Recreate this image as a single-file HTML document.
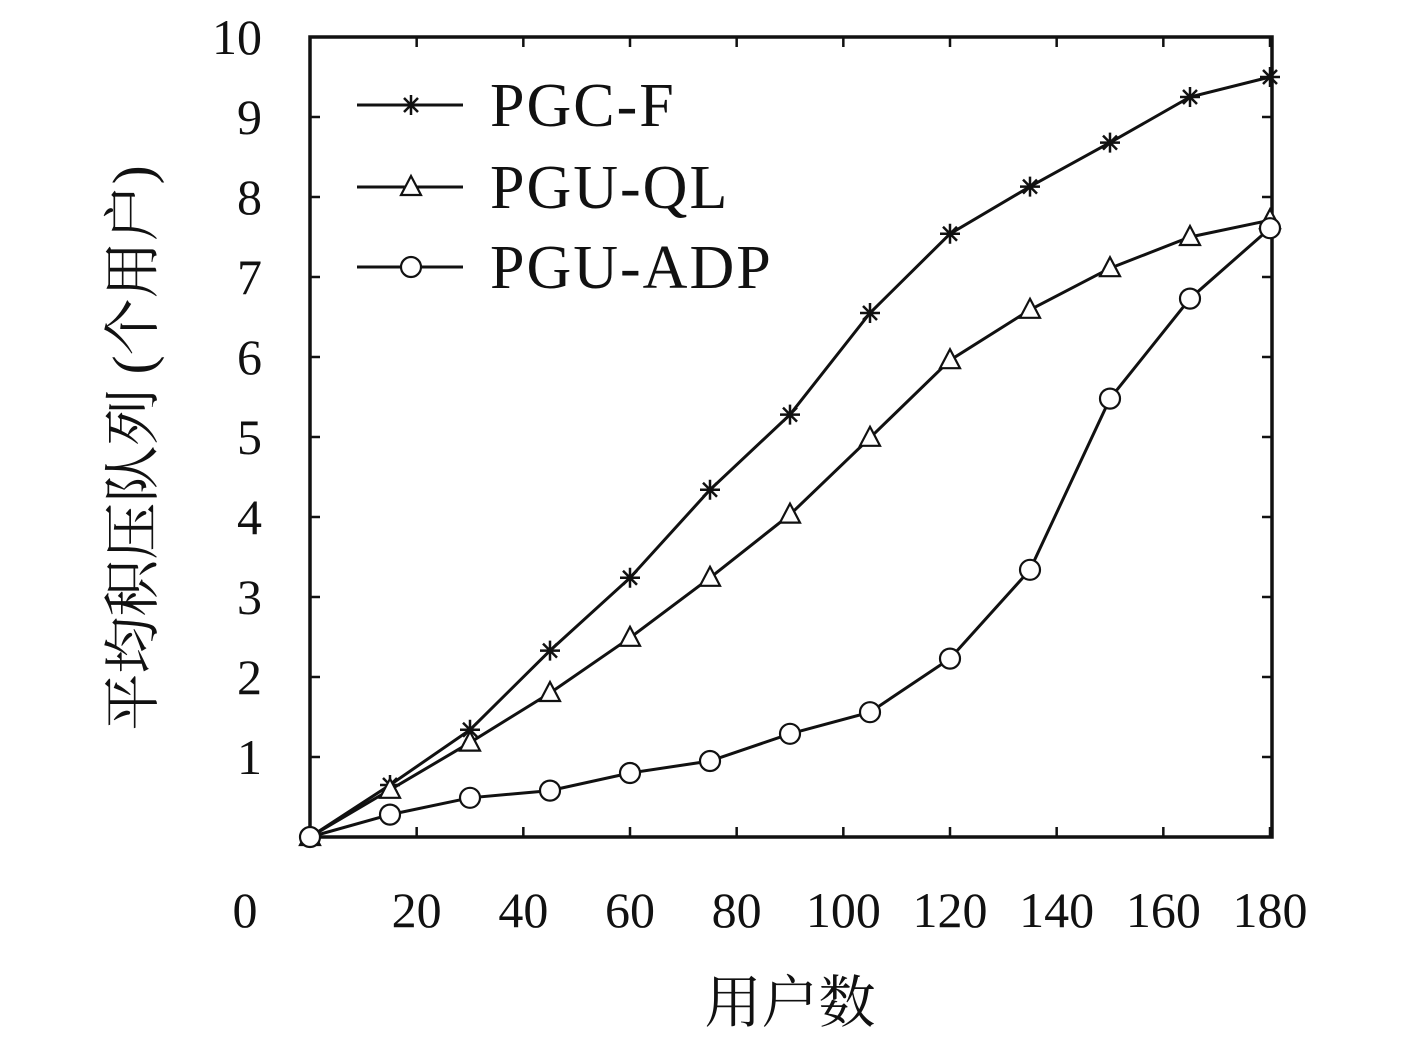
<!DOCTYPE html>
<html><head><meta charset="utf-8"><style>
html,body{margin:0;padding:0;background:#fff;}
svg{display:block;}
text{font-family:"Liberation Serif","Noto Serif CJK SC",serif;fill:#111;}
</style></head><body>
<svg id="chart" width="1417" height="1037" viewBox="0 0 1417 1037">
<g id="axes"></g><g id="series"></g><g id="legend"></g>
<text x="790" y="1022" font-size="57" text-anchor="middle">用户数</text>
<text transform="translate(152,448) rotate(-90)" font-size="57" text-anchor="middle">平均积压队列 (个用户)</text>
</svg>
<script>
const xValues=[0,15,30,45,60,75,90,105,120,135,150,165,180];
const pgcF=[0,0.65,1.34,2.33,3.24,4.34,5.28,6.55,7.54,8.13,8.68,9.25,9.5];
const pguQL=[0,0.59,1.18,1.8,2.49,3.24,4.03,4.99,5.96,6.59,7.11,7.5,7.71];
const pguADP=[0,0.28,0.49,0.58,0.8,0.95,1.29,1.56,2.23,3.34,5.48,6.73,7.61];
const xTicks=[20,40,60,80,100,120,140,160,180];
const yTicks=[1,2,3,4,5,6,7,8,9,10];
const seriesNames=["PGC-F","PGU-QL","PGU-ADP"];
const NS="http://www.w3.org/2000/svg";
const L=310,R=1272,T=37,B=837;
const sx=v=>L+(v/180)*(1270-L);
const sy=v=>B-(v/10)*(B-T);
function mk(tag,attrs,parent){const e=document.createElementNS(NS,tag);for(const k in attrs)e.setAttribute(k,attrs[k]);parent.appendChild(e);return e;}
const axes=document.getElementById('axes');
const frame=mk('rect',{x:L,y:T,width:R-L,height:B-T,fill:'none',stroke:'#111','stroke-width':3.5},axes);


xTicks.forEach(t=>{
 const x=sx(t);
 const tk=mk('path',{d:`M${x},${B}V${B-10}M${x},${T}V${T+10}`,stroke:'#111','stroke-width':2.5},axes);
 
 
 const lb=mk('text',{x:x,y:927,'font-size':50,'text-anchor':'middle'},axes);lb.textContent=t;
 
 
});
yTicks.forEach(t=>{
 const y=sy(t);
 const tk=mk('path',{d:`M${L},${y}H${L+10}M${R},${y}H${R-10}`,stroke:'#111','stroke-width':2.5},axes);
 
 
 const lb=mk('text',{x:262,y:y+17,'font-size':50,'text-anchor':'end'},axes);lb.textContent=t;
 
 
});
const z=mk('text',{x:245,y:927,'font-size':50,'text-anchor':'middle'},axes);z.textContent='0';


function marker(type,x,y,g){
 if(type===0){mk('path',{d:`M${x-10},${y}H${x+10}M${x},${y-10}V${y+10}M${x-7},${y-7}L${x+7},${y+7}M${x-7},${y+7}L${x+7},${y-7}`,stroke:'#111','stroke-width':2.5},g);}
 else if(type===1){mk('path',{d:`M${x},${y-11}L${x+10},${y+8}H${x-10}Z`,fill:'#fff',stroke:'#111','stroke-width':2.2},g);}
 else {mk('circle',{cx:x,cy:y,r:10,fill:'#fff',stroke:'#111','stroke-width':2.2},g);}
}
const sg=document.getElementById('series');
[pgcF,pguQL,pguADP].forEach((arr,i)=>{
 const g=mk('g',{},sg);
 
 
 const d=arr.map((v,j)=>(j?'L':'M')+sx(xValues[j])+','+sy(v)).join('');
 mk('path',{d:d,fill:'none',stroke:'#111','stroke-width':3},g);
 arr.forEach((v,j)=>marker(i,sx(xValues[j]),sy(v),g));
});
const lg=document.getElementById('legend');
[105,187,267].forEach((y,i)=>{
 const g=mk('g',{},lg);
 
 
 mk('path',{d:`M357,${y}H463`,stroke:'#111','stroke-width':3},g);
 marker(i,411,y,g);
 const t=mk('text',{x:490,y:y+21,'font-size':62,'letter-spacing':2},g);t.textContent=seriesNames[i];
});
</script>
</body></html>
